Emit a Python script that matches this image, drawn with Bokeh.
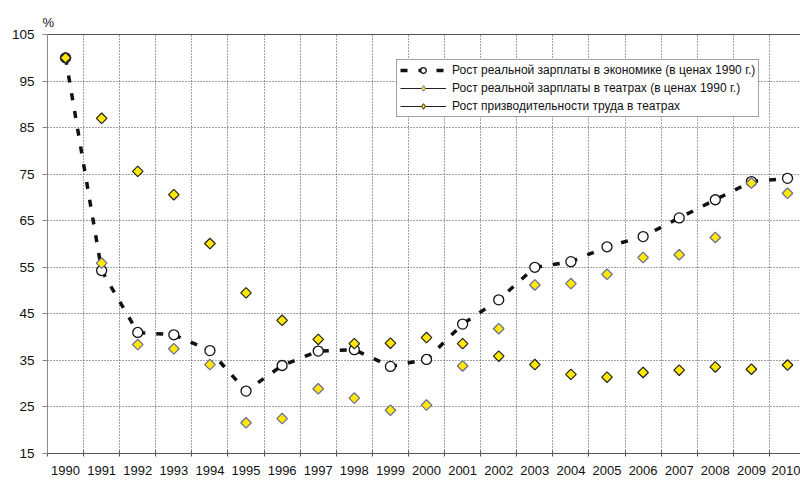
import math
from bokeh.plotting import figure
from bokeh.models import (Range1d, FixedTicker, LinearAxis, Legend, LegendItem,
                          ColumnDataSource, CDSView, IndexFilter)
from bokeh.embed import file_html
from bokeh.resources import INLINE

# ---- data ----
years = [1990, 1991, 1992, 1993, 1994, 1995, 1996, 1997, 1998, 1999, 2000,
         2001, 2002, 2003, 2004, 2005, 2006, 2007, 2008, 2009, 2010]
wage_economy = [100, 54.3, 41.0, 40.5, 37.1, 28.4, 33.9, 37.0, 37.3, 33.7, 35.2,
                42.8, 48.0, 55.0, 56.2, 59.4, 61.6, 65.6, 69.5, 73.4, 74.1]
wage_theatres = [100, 55.9, 38.4, 37.5, 34.1, 21.6, 22.5, 28.9, 26.9, 24.3, 25.4,
                 33.8, 41.8, 51.2, 51.5, 53.5, 57.1, 57.7, 61.4, 73.1, 70.9]
productivity = [100, 87.0, 75.6, 70.6, 60.1, 49.5, 43.6, 39.5, 38.6, 38.7, 39.9,
                38.6, 35.9, 34.1, 32.0, 31.4, 32.4, 32.9, 33.6, 33.1, 34.0]
y_ticks = [15, 25, 35, 45, 55, 65, 75, 85, 95, 105]
labels = ["Рост реальной зарплаты в экономике (в ценах 1990 г.)",
          "Рост реальной зарплаты в театрах (в ценах 1990 г.)",
          "Рост призводительности труда в театрах"]
unit_label = "%"

FONT = "Liberation Sans"
YELLOW = "#FFE900"
n = len(years)
xs = [i + 0.5 for i in range(n)]          # category centres
bounds = list(range(n + 1))                # category boundaries

src = ColumnDataSource(dict(x=xs, economy=wage_economy,
                            theatres=wage_theatres, prod=productivity))

p = figure(width=800, height=481, output_backend="svg", toolbar_location=None,
           x_range=Range1d(0, 20.86), y_range=Range1d(y_ticks[0], y_ticks[-1]),
           min_border_left=47, min_border_right=0, min_border_top=34,
           min_border_bottom=28)
p.outline_line_color = None
p.background_fill_color = "white"
p.border_fill_color = "white"

# "%" as a left-aligned title above the frame
p.title.text = unit_label
p.title.align = "left"
p.title.offset = -5
p.title.standoff = 9
p.title.text_font = FONT
p.title.text_font_size = "13px"
p.title.text_font_style = "normal"
p.title.text_color = "#111111"

# x axis
xa = p.xaxis[0]
xa.ticker = FixedTicker(ticks=xs, minor_ticks=bounds)
xa.major_label_overrides = {x: str(y) for x, y in zip(xs, years)}
xa.major_tick_line_color = None
xa.major_tick_out = 0
xa.major_tick_in = 0
xa.minor_tick_in = 3
xa.minor_tick_out = 3
xa.minor_tick_line_color = "#555555"
xa.axis_line_color = "#555555"
xa.major_label_standoff = 9
xa.major_label_text_font = FONT
xa.major_label_text_font_size = "13px"
xa.major_label_text_color = "#111111"

# y axis
ya = p.yaxis[0]
ya.ticker = FixedTicker(ticks=y_ticks)
ya.major_tick_out = 5
ya.major_tick_in = 0
ya.minor_tick_line_color = None
ya.axis_line_color = "#888888"
ya.major_tick_line_color = "#888888"
ya.major_label_standoff = 8
ya.major_label_text_font = FONT
ya.major_label_text_font_size = "13.5px"
ya.major_label_text_color = "#111111"

# top frame line
top = LinearAxis(ticker=FixedTicker(ticks=[]), axis_line_color="#555555",
                 major_tick_line_color=None, minor_tick_line_color=None,
                 major_tick_out=0, major_tick_in=0, major_label_standoff=0,
                 major_label_text_font_size="0px")
p.add_layout(top, "above")

# grids
p.xgrid.ticker = FixedTicker(ticks=bounds[1:])
p.ygrid.ticker = FixedTicker(ticks=y_ticks[1:-1])
for g in (p.xgrid, p.ygrid):
    g.grid_line_color = "#444444"
    g.grid_line_dash = "1 2"
    g.grid_line_width = 1

# series 1: dashed line with open circles
l1 = p.line("x", "economy", source=src, line_color="#111111", line_width=3.5,
            line_dash="7 11")
c1 = p.scatter("x", "economy", source=src, marker="circle", size=10,
               fill_color="white", line_color="#111111", line_width=1.3)


def first_only():
    return CDSView(filter=IndexFilter(indices=[0]))


# legend glyphs (a single point: the line draws nothing, the small marker
# sits hidden beneath the 1990 diamond drawn afterwards)
l2 = p.line("x", "theatres", source=src, view=first_only(), line_color="#222222", line_width=1)
m2 = p.scatter("x", "theatres", source=src, view=first_only(), marker="diamond", size=11,
               fill_color=YELLOW, line_color="#6A6A9A", line_width=1)
l3 = p.line("x", "prod", source=src, view=first_only(), line_color="#222222", line_width=1)
m3 = p.scatter("x", "prod", source=src, view=first_only(), marker="diamond", size=11,
               fill_color=YELLOW, line_color="#222222", line_width=1)

# series 2 and 3: diamonds
p.rect("x", "theatres", source=src, width=7.5, height=7.5,
       width_units="screen", height_units="screen", angle=math.pi / 4,
       fill_color=YELLOW, line_color="#6A6A9A", line_width=1.2)
p.rect("x", "prod", source=src, width=7.5, height=7.5,
       width_units="screen", height_units="screen", angle=math.pi / 4,
       fill_color=YELLOW, line_color="#222222", line_width=1.2)

legend = Legend(items=[LegendItem(label=labels[0], renderers=[l1, c1]),
                       LegendItem(label=labels[1], renderers=[l2, m2]),
                       LegendItem(label=labels[2], renderers=[l3, m3])],
                location=(349, 336))
legend.border_line_color = "#444444"
legend.border_line_width = 1.5
legend.background_fill_color = "white"
legend.background_fill_alpha = 1
legend.padding = 3
legend.spacing = 4
legend.margin = 0
legend.glyph_width = 46
legend.glyph_height = 14
legend.label_height = 14
legend.label_standoff = 6
legend.label_text_font = FONT
legend.label_text_font_size = "12px"
legend.label_text_color = "#111111"
p.add_layout(legend)

open("out.html", "w").write(file_html(p, INLINE))
